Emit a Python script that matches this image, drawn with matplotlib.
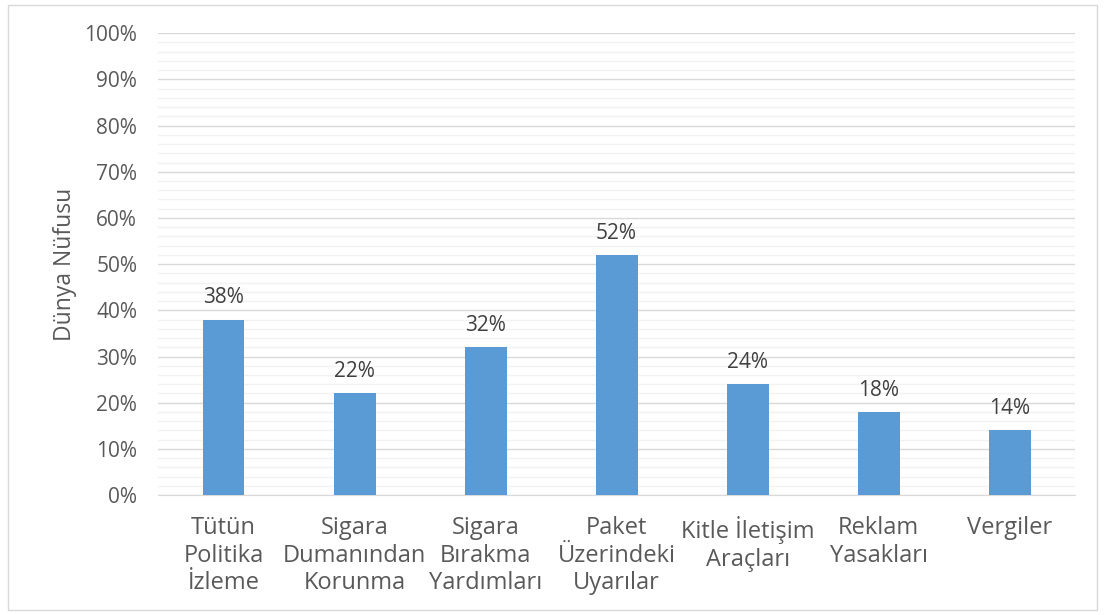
import matplotlib.pyplot as plt
from matplotlib.ticker import MultipleLocator, PercentFormatter
from matplotlib.patches import Rectangle

plt.rcParams['font.family'] = ['Open Sans', 'DejaVu Sans']

# data
categories = ["Tütün\nPolitika\nİzleme", "Sigara\nDumanından\nKorunma", "Sigara\nBırakma\nYardımları",
              "Paket\nÜzerindeki\nUyarılar", "Kitle İletişim\nAraçları", "Reklam\nYasakları", "Vergiler"]
values = [38, 22, 32, 52, 24, 18, 14]

text_color = "#595959"
bar_color = "#5B9BD5"

fig = plt.figure(figsize=(11.05, 6.15), dpi=100)
ax = fig.add_axes([0.143, 0.195, 0.830, 0.751])

x = range(len(categories))
bars = ax.bar(x, values, width=0.32, color=bar_color, zorder=3)
for xi, v in zip(x, values):
    ax.annotate(f"{v}%", (xi, v), xytext=(0, 8), textcoords="offset points",
                ha="center", va="bottom", fontsize=15, color="#404040")

ax.set_xlim(-0.5, len(categories) - 0.5)
ax.set_ylim(0, 100)
ax.yaxis.set_major_locator(MultipleLocator(10))
ax.yaxis.set_minor_locator(MultipleLocator(2))
ax.yaxis.set_major_formatter(PercentFormatter(decimals=0))
ax.grid(axis="y", which="major", color="#D9D9D9", linewidth=1, zorder=0)
ax.grid(axis="y", which="minor", color="#F2F2F2", linewidth=1, zorder=0)

ax.set_xticks(list(x))
ax.set_xticklabels(categories, fontsize=17, color=text_color, linespacing=1.2)
ax.tick_params(axis="x", length=0, pad=15)
ax.tick_params(axis="y", which="both", length=0, labelsize=15, labelcolor=text_color, pad=15)

for s in ["top", "right", "left"]:
    ax.spines[s].set_visible(False)
ax.spines["bottom"].set_color("#D9D9D9")

ax.set_ylabel("Dünya Nüfusu", fontsize=16.5, color=text_color, labelpad=5)

fig.patches.append(Rectangle((0.007, 0.008), 0.986, 0.984, transform=fig.transFigure,
                             fill=False, edgecolor="#D9D9D9", linewidth=1))

fig.savefig("out.png", dpi=100)
